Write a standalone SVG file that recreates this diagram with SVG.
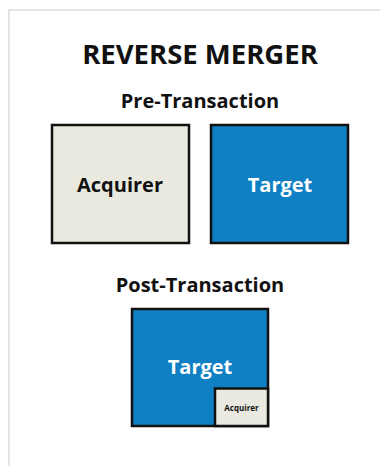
<svg xmlns="http://www.w3.org/2000/svg" width="380" height="466" viewBox="0 0 380 466">
<style>
text{font-family:"Open Sans","Noto Sans","Liberation Sans",sans-serif;font-weight:bold;text-anchor:middle}
.blue{fill:#1080c4;stroke:#111;stroke-width:2.5}
.beige{fill:#e9e9df;stroke:#111;stroke-width:2.5}
.dark{fill:#111}
.white{fill:#fff}
</style>
<rect x="0" y="0" width="380" height="466" fill="#fff"/>
<path d="M9 466 V10 H380" fill="none" stroke="#dcdcdc" stroke-width="1.5"/>
<text x="200" y="64" font-size="27.5" class="dark">REVERSE MERGER</text>
<text x="200" y="108" font-size="20" class="dark">Pre-Transaction</text>
<g id="acquirer-pre">
<rect x="52" y="125" width="137" height="118" class="beige"/>
<text x="120" y="192" font-size="20" class="dark">Acquirer</text>
</g>
<g id="target-pre">
<rect x="211" y="125" width="137" height="118" class="blue"/>
<text x="280" y="192" font-size="20" class="white">Target</text>
</g>
<text x="200" y="292" font-size="20" class="dark">Post-Transaction</text>
<g id="target-post">
<rect x="132" y="309" width="136" height="117" class="blue"/>
<text x="200" y="374" font-size="20" class="white">Target</text>
</g>
<g id="acquirer-post">
<rect x="215" y="388.5" width="53" height="37.5" class="beige"/>
<text x="241.5" y="411" font-size="8" class="dark">Acquirer</text>
</g>
<g id="connectors"/>
</svg>
